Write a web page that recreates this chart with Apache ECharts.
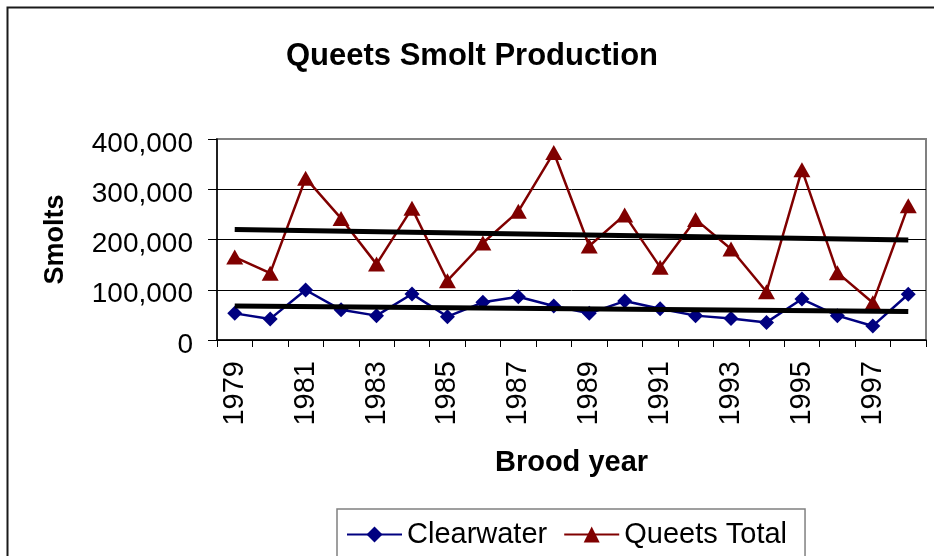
<!DOCTYPE html>
<html>
<head>
<meta charset="utf-8">
<script src="https://cdn.jsdelivr.net/npm/echarts@6/dist/echarts.min.js"></script>
<style>
html,body{margin:0;padding:0;background:#fff;}
#chart{width:934px;height:556px;}
</style>
</head>
<body>
<div id="chart"></div>
<script>
var years = ['1979','1980','1981','1982','1983','1984','1985','1986','1987','1988','1989','1990','1991','1992','1993','1994','1995','1996','1997','1998'];
var clearwater = [53000, 42000, 99500, 60000, 48500, 91500, 46500, 75000, 86000, 67500, 53000, 77500, 62000, 48500, 43000, 35000, 81500, 48500, 28000, 91000];
var queetsTotal = [165000, 133000, 322000, 242000, 151000, 262000, 118000, 193000, 256000, 373000, 187000, 249000, 145000, 240000, 181000, 96000, 339000, 134000, 74000, 267000];
var queetsTrend = [['1979', 220000], ['1998', 199000]];
var clearwaterTrend = [['1979', 67500], ['1998', 56500]];
var yTicks = [0, 100000, 200000, 300000, 400000];

var FONT = 'Liberation Sans, Arial, sans-serif';
function fmt(v){ return String(v).replace(/\B(?=(\d{3})+(?!\d))/g, ','); }

var chart = echarts.init(document.getElementById('chart'), null, {renderer:'canvas'});
chart.setOption({
  backgroundColor: '#ffffff',
  animation: false,
  title: {
    text: 'Queets Smolt Production',
    left: 472, top: 41, padding: 0,
    textAlign: 'center',
    textStyle: {fontFamily: FONT, fontWeight: 'bold', fontSize: 31, color: '#000'}
  },
  graphic: [{
    type: 'rect', silent: true, z: 100,
    shape: {x: 7.5, y: 7.5, width: 1000, height: 1000},
    style: {fill: 'none', stroke: '#1a1a1a', lineWidth: 2}
  }],
  legend: {
    data: ['Clearwater', 'Queets Total'],
    left: 337, top: 509,
    padding: [11, 18, 20, 9],
    itemWidth: 55, itemHeight: 20, itemGap: 16,
    borderColor: '#808080', borderWidth: 1.5,
    textStyle: {fontFamily: FONT, fontSize: 29, color: '#000'}
  },
  grid: {
    left: 217, right: 8, top: 139, height: 201,
    show: true, borderColor: '#808080', borderWidth: 2, backgroundColor: '#fff'
  },
  xAxis: {
    type: 'category',
    data: years,
    boundaryGap: true,
    name: 'Brood year',
    nameLocation: 'middle',
    nameGap: 108,
    nameTextStyle: {fontFamily: FONT, fontWeight: 'bold', fontSize: 29, color: '#000'},
    axisLine: {show: true, lineStyle: {color: '#000', width: 1.5}},
    axisTick: {show: true, interval: 0, length: 7, alignWithLabel: false, lineStyle: {color: '#000', width: 1}},
    axisLabel: {interval: 1, rotate: 90, margin: 21, fontFamily: FONT, fontSize: 29, color: '#000'},
    splitLine: {show: false}
  },
  yAxis: {
    type: 'value',
    min: 0, max: 400000, interval: 100000,
    name: 'Smolts',
    nameLocation: 'middle',
    nameRotate: 90,
    nameGap: 148,
    nameTextStyle: {fontFamily: FONT, fontWeight: 'bold', fontSize: 27, color: '#000'},
    axisLine: {show: true, lineStyle: {color: '#000', width: 1.5}},
    axisTick: {show: true, length: 9, lineStyle: {color: '#000', width: 1}},
    axisLabel: {
      margin: 24, fontFamily: FONT, fontSize: 28, color: '#000',
      formatter: function(v){ return '{a|' + fmt(v) + '}'; },
      rich: {a: {fontFamily: FONT, fontSize: 28, color: '#000', padding: [10, 0, 0, 0]}}
    },
    splitLine: {show: true, lineStyle: {color: ['#000','#000','#000','#000','#808080'], width: 1}}
  },
  series: [
    {
      name: 'Clearwater', type: 'line', data: clearwater,
      symbol: 'diamond', symbolSize: 15,
      itemStyle: {color: '#000080'},
      lineStyle: {color: '#000080', width: 2.5},
      z: 3
    },
    {
      name: 'Queets Total', type: 'line', data: queetsTotal,
      symbol: 'triangle', symbolSize: [17, 15],
      itemStyle: {color: '#800000'},
      lineStyle: {color: '#800000', width: 2.5},
      z: 3
    },
    {
      name: 'Queets trend', type: 'line', data: queetsTrend,
      symbol: 'none', lineStyle: {color: '#000', width: 5},
      z: 5, silent: true
    },
    {
      name: 'Clearwater trend', type: 'line', data: clearwaterTrend,
      symbol: 'none', lineStyle: {color: '#000', width: 5},
      z: 5, silent: true
    }
  ]
});
</script>
</body>
</html>
